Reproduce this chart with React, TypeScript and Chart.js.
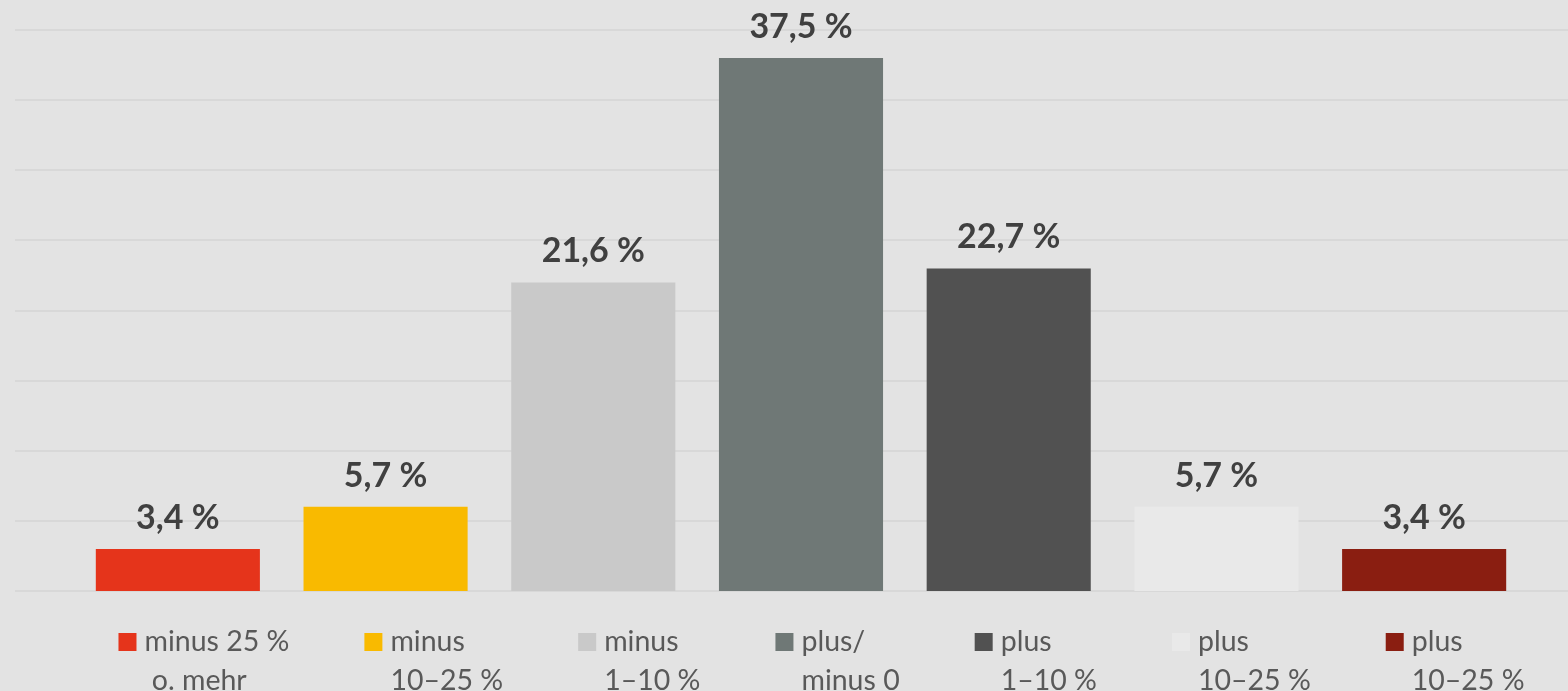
import React, { useEffect, useRef } from "react";
import { Chart, registerables } from "chart.js";

Chart.register(...registerables);

const categories: string[][] = [
  ["minus 25 %", " o. mehr"],
  ["minus", "10–25 %"],
  ["minus", "1–10 %"],
  ["plus/", "minus 0"],
  ["plus", "1–10 %"],
  ["plus", "10–25 %"],
  ["plus", "10–25 %"],
];
const barValues: number[] = [3, 6, 22, 38, 23, 6, 3];
const valueLabels: string[] = ["3,4 %", "5,7 %", "21,6 %", "37,5 %", "22,7 %", "5,7 %", "3,4 %"];
const barColors: string[] = ["#E5341B", "#F9BA00", "#C9C9C9", "#6F7876", "#515151", "#E9E9E9", "#8A1E11"];
const yTicks: number[] = [0, 5, 10, 15, 20, 25, 30, 35, 40];

const W = 1568;
const H = 691;
const BG = "#E3E3E3";
const FONT = "Lato, 'Open Sans', sans-serif";

const gridPlugin = {
  id: "fullGrid",
  beforeDatasetsDraw(chart: any) {
    const ctx = chart.ctx;
    const y = chart.scales.y;
    ctx.save();
    ctx.strokeStyle = "#D8D8D8";
    ctx.lineWidth = 2;
    yTicks.forEach((v) => {
      const py = Math.round(y.getPixelForValue(v));
      ctx.beginPath();
      ctx.moveTo(15, py);
      ctx.lineTo(chart.width, py);
      ctx.stroke();
    });
    ctx.restore();
  },
};

const labelPlugin = {
  id: "valueLabels",
  afterDatasetsDraw(chart: any) {
    const ctx = chart.ctx;
    const meta = chart.getDatasetMeta(0);
    ctx.save();
    ctx.font = `bold 34px ${FONT}`;
    ctx.fillStyle = "#404040";
    ctx.textAlign = "center";
    ctx.textBaseline = "alphabetic";
    meta.data.forEach((bar: any, i: number) => {
      ctx.fillText(valueLabels[i], bar.x, bar.y - 20);
    });
    ctx.restore();
  },
};

const legendPlugin = {
  id: "bottomLegend",
  afterDraw(chart: any) {
    const ctx = chart.ctx;
    ctx.save();
    ctx.font = `28.5px ${FONT}`;
    const box = 18;
    const boxGap = 8;
    const itemGap = 75;
    const widths = categories.map((lines) =>
      Math.max(...lines.map((l) => ctx.measureText(l).width))
    );
    const total =
      widths.reduce((a, w) => a + box + boxGap + w, 0) + itemGap * (categories.length - 1);
    let x = 821.5 - total / 2;
    const base1 = chart.chartArea.bottom + 60;
    const lineH = 38.5;
    categories.forEach((lines, i) => {
      ctx.fillStyle = barColors[i];
      ctx.fillRect(x, base1 - box, box, box);
      ctx.fillStyle = "#595959";
      ctx.textAlign = "left";
      ctx.textBaseline = "alphabetic";
      lines.forEach((l, j) => {
        ctx.fillText(l, x + box + boxGap, base1 + j * lineH);
      });
      x += box + boxGap + widths[i] + itemGap;
    });
    ctx.restore();
  },
};

export default function App() {
  const ref = useRef<HTMLCanvasElement | null>(null);

  useEffect(() => {
    document.body.style.margin = "0";
    document.body.style.background = BG;
    const canvas = ref.current;
    if (!canvas) return;
    const chart = new Chart(canvas, {
      type: "bar",
      data: {
        labels: categories.map((c) => c.join(" ")),
        datasets: [
          {
            data: barValues,
            backgroundColor: barColors,
            borderWidth: 0,
            categoryPercentage: 1,
            barPercentage: 0.79,
          },
        ],
      },
      options: {
        animation: false,
        responsive: false,
        maintainAspectRatio: false,
        devicePixelRatio: 1,
        layout: { padding: { left: 74, right: 40, top: 30, bottom: 100 } },
        plugins: { legend: { display: false }, tooltip: { enabled: false } },
        scales: {
          x: { display: false, offset: true, grid: { display: false } },
          y: { display: false, min: 0, max: 40, ticks: { stepSize: 5 } },
        },
      },
      plugins: [gridPlugin, labelPlugin, legendPlugin],
    });
    return () => chart.destroy();
  }, []);

  return (
    <div style={{ width: W, height: H, background: BG, overflow: "hidden" }}>
      <canvas ref={ref} width={W} height={H} style={{ display: "block", width: W, height: H }} />
    </div>
  );
}
